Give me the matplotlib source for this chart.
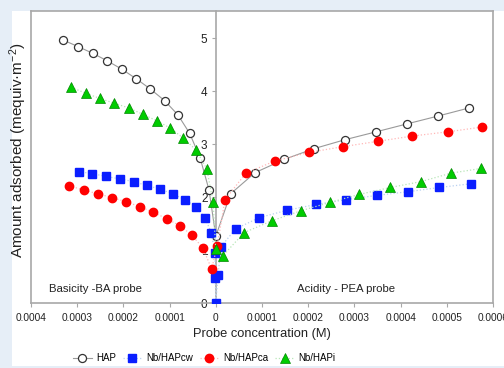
import numpy as np
import matplotlib.pyplot as plt
from matplotlib.patches import Rectangle
from matplotlib.ticker import FuncFormatter

plt.rcParams['font.family'] = ['Liberation Sans', 'DejaVu Sans']
plt.rcParams['mathtext.default'] = 'regular'

# probe concentration in units of 1e-4 M (basicity side negative), amount adsorbed
hap_x = [-3.30, -2.985, -2.66, -2.35, -2.03, -1.72, -1.42, -1.11, -0.82, -0.565, -0.34, -0.146,
         0.0, 0.32, 0.85, 1.48, 2.115, 2.79, 3.47, 4.14, 4.82, 5.48]
hap_y = [4.96, 4.84, 4.71, 4.57, 4.41, 4.23, 4.04, 3.82, 3.55, 3.20, 2.74, 2.13,
         1.26, 2.06, 2.46, 2.71, 2.91, 3.08, 3.23, 3.38, 3.53, 3.68]

cw_x = [-2.97, -2.67, -2.38, -2.07, -1.78, -1.50, -1.21, -0.93, -0.67, -0.43, -0.235, -0.10,
        -0.02, -0.01, 0.0, 0.05, 0.11, 0.43, 0.94, 1.54, 2.17, 2.82, 3.48, 4.16, 4.84, 5.52]
cw_y = [2.48, 2.44, 2.39, 2.34, 2.29, 2.22, 2.15, 2.06, 1.95, 1.82, 1.61, 1.33,
        0.95, 0.48, 0.0, 0.53, 1.06, 1.40, 1.61, 1.75, 1.86, 1.95, 2.03, 2.10, 2.18, 2.25]

ca_x = [-3.17, -2.85, -2.55, -2.25, -1.94, -1.65, -1.35, -1.06, -0.78, -0.515, -0.275, -0.09,
        0.03, 0.20, 0.65, 1.28, 2.01, 2.75, 3.50, 4.25, 5.02, 5.76]
ca_y = [2.21, 2.13, 2.06, 1.99, 1.91, 1.82, 1.71, 1.59, 1.46, 1.28, 1.03, 0.64,
        1.08, 1.95, 2.45, 2.68, 2.84, 2.95, 3.05, 3.15, 3.23, 3.32]

hapi_x = [-3.13, -2.82, -2.51, -2.20, -1.88, -1.58, -1.28, -0.985, -0.70, -0.43, -0.195, -0.06,
          0.0, 0.15, 0.615, 1.21, 1.84, 2.48, 3.11, 3.78, 4.44, 5.09, 5.75]
hapi_y = [4.07, 3.96, 3.86, 3.77, 3.68, 3.56, 3.44, 3.30, 3.11, 2.89, 2.53, 1.91,
          1.01, 0.89, 1.33, 1.55, 1.74, 1.90, 2.05, 2.18, 2.29, 2.45, 2.54]

xticks = [-4, -3, -2, -1, 0, 1, 2, 3, 4, 5, 6]

fig = plt.figure(figsize=(5.04, 3.68), dpi=100)
fig.patch.set_facecolor('#e6eef7')
fig.patches.append(Rectangle((12 / 504, 0.006), 1, 1 - 11 / 368 - 0.006, transform=fig.transFigure,
                             facecolor='white', edgecolor='none', zorder=-1))

ax = fig.add_axes([31 / 504, 1 - 303 / 368, (493 - 31) / 504, (303 - 11) / 368])
ax.set_facecolor('white')
ax.set_zorder(1)

sc = 1e-4
ax.plot(np.array(hap_x) * sc, hap_y, '-', color='#9a9a9a', lw=0.8, marker='o', ms=5.8,
        mfc='white', mec='#333333', mew=0.9, label='HAP', zorder=3)
ax.plot(np.array(cw_x) * sc, cw_y, ':', color='#b8d0f0', lw=0.9, marker='s', ms=5.5,
        mfc='#0a1eff', mec='#0a1eff', label='Nb/HAPcw', zorder=3)
ax.plot(np.array(ca_x) * sc, ca_y, ':', color='#ffb8b8', lw=0.9, marker='o', ms=6,
        mfc='#ff0000', mec='#ff0000', label='Nb/HAPca', zorder=3)
ax.plot(np.array(hapi_x) * sc, hapi_y, ':', color='#b8e6b8', lw=0.9, marker='^', ms=6.5,
        mfc='#00cc00', mec='#008800', mew=0.5, label='Nb/HAPi', zorder=3)

ax.set_xlim(-4e-4, 6e-4)
ax.set_ylim(0, 5.51)

gray = '#a8a8a8'
for s in ['top', 'right', 'bottom', 'left']:
    ax.spines[s].set_color(gray)
    ax.spines[s].set_linewidth(1.2)
ax.spines['left'].set_position(('data', 0))
ax.plot([0, 0], [0, 1], transform=ax.transAxes, color=gray, lw=1.2, clip_on=False, zorder=4)

ax.set_xticks(np.array(xticks) * sc)
ax.xaxis.set_major_formatter(FuncFormatter(lambda v, p: '0' if abs(v) < 1e-9 else '%.4f' % abs(v)))
ax.set_yticks([0, 1, 2, 3, 4, 5])
ax.tick_params(axis='both', colors=gray, labelcolor='#222222', length=3, width=0.8)
ax.tick_params(axis='x', pad=4, labelsize=7.3)
ax.tick_params(axis='y', pad=3, labelsize=8.5)

ax.text(-3.61e-4, 0.26, 'Basicity -BA probe', fontsize=8.2, color='#222222', va='center')
ax.text(1.76e-4, 0.26, 'Acidity - PEA probe', fontsize=8.2, color='#222222', va='center')

ax.set_xlabel('Probe concentration (M)', fontsize=9.3, color='#222222', labelpad=4)
fig.text(18 / 504, 1 - 150 / 368, 'Amount adsorbed (mequiv·m$^{-2}$)', rotation=90,
         fontsize=11, color='#222222', ha='center', va='center')

fig.legend(loc='center', bbox_to_anchor=(204 / 504, 1 - 358 / 368), ncol=4, frameon=False,
           fontsize=7, handlelength=2.0, columnspacing=0.7, handletextpad=0.4)

plt.savefig('out.png', dpi=100, facecolor=fig.get_facecolor())
